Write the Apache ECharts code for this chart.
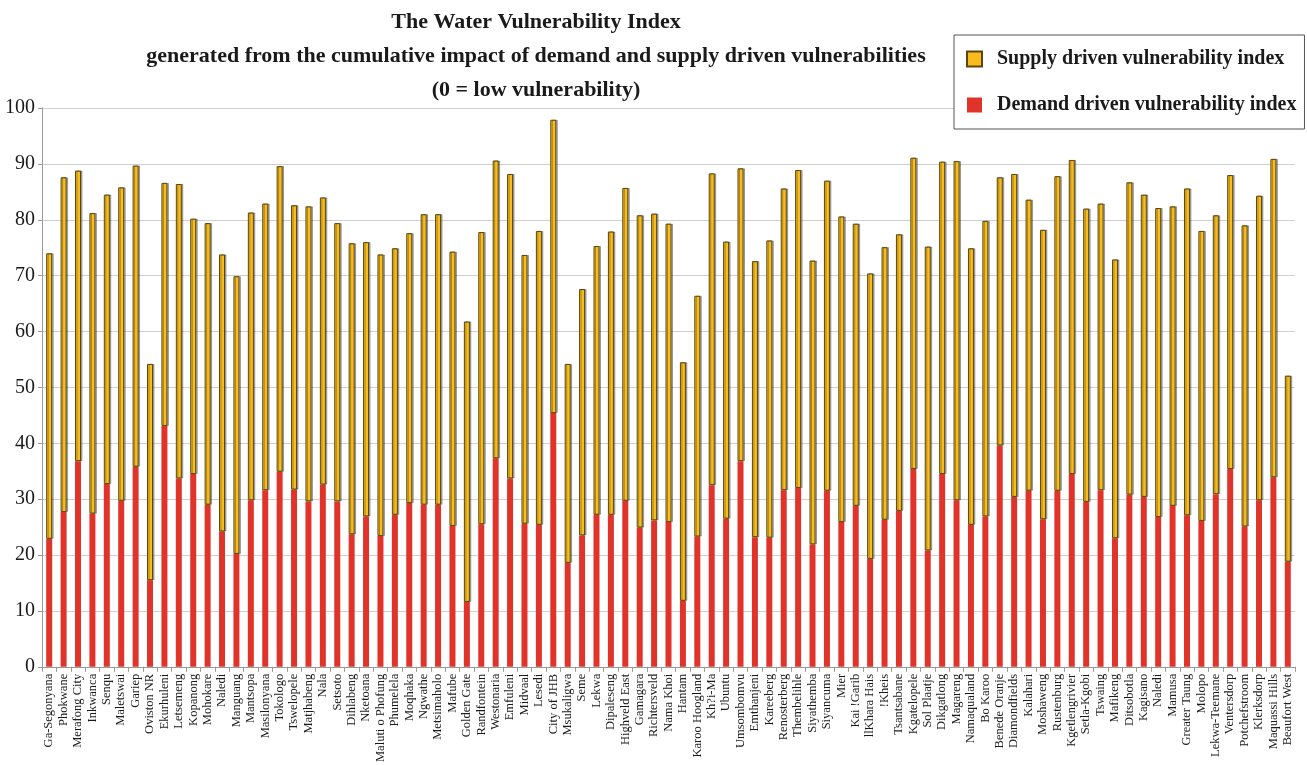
<!DOCTYPE html>
<html>
<head>
<meta charset="utf-8">
<script src="https://cdn.jsdelivr.net/npm/echarts@6/dist/echarts.min.js"></script>
<style>
html,body{margin:0;padding:0;background:#fff;}
#chart{width:1307px;height:765px;}
</style>
</head>
<body>
<div id="chart"></div>
<script>
const categories = [
  'Ga-Segonyana','Phokwane','Merafong City','Inkwanca','Senqu','Maletswai','Gariep','Oviston NR','Ekurhuleni','Letsemeng',
  'Kopanong','Mohokare','Naledi','Manguang','Mantsopa','Masilonyana','Tokologo','Tswelopele','Matjhabeng','Nala',
  'Setsoto','Dihlabeng','Nketoana','Maluti o Phofung','Phumelela','Moqhaka','Ngwathe','Metsimaholo','Mafube','Golden Gate',
  'Randfontein','Westonaria','Emfuleni','Midvaal','Lesedi','City of JHB','Msukaligwa','Seme','Lekwa','Dipaleseng',
  'Highveld East','Gamagara','Richtersveld','Nama Khoi','Hantam','Karoo Hoogland','Kh?i-Ma','Ubuntu','Umsombomvu','Emthanjeni',
  'Kareeberg','Renosterberg','Thembelihle','Siyathemba','Siyancuma','Mier','Kai !Garib','llKhara Hais','!Kheis','Tsantsabane',
  'Kgatelopele','Sol Plaatje','Dikgatlong','Magareng','Namaqualand','Bo Karoo','Benede Oranje','Diamondfields','Kalahari','Moshaweng',
  'Rustenburg','Kgetlengrivier','Setla-Kgobi','Tswaing','Mafikeng','Ditsobotla','Kagisano','Naledi','Mamusa','Greater Taung',
  'Molopo','Lekwa-Teemane','Ventersdorp','Potchefstroom','Klerksdorp','Maquassi Hills','Beaufort West'
];

const demandValues = [
  22.9,27.7,36.8,27.4,32.7,29.7,35.8,15.5,43.1,33.7,
  34.5,29.0,24.2,20.2,29.8,31.6,34.9,31.7,29.6,32.6,
  29.6,23.7,26.9,23.4,27.2,29.3,29.0,29.0,25.2,11.6,
  25.5,37.3,33.7,25.6,25.4,45.4,18.6,23.5,27.2,27.2,
  29.7,24.9,26.2,25.9,11.8,23.3,32.5,26.5,36.8,23.2,
  23.1,31.6,32.0,21.9,31.5,25.9,28.8,19.3,26.3,27.9,
  35.4,20.8,34.5,29.8,25.4,26.9,39.6,30.4,31.5,26.4,
  31.5,34.5,29.5,31.6,23.0,30.8,30.4,26.8,28.8,27.1,
  26.1,30.9,35.4,25.1,29.8,33.9,18.8
];

const supplyValues = [
  51.1,59.9,52.0,53.8,51.8,56.1,53.9,38.7,43.5,52.7,
  45.7,50.4,49.6,49.7,51.5,51.3,54.7,50.9,52.8,51.4,
  49.8,52.1,49.1,50.4,47.7,48.3,52.0,52.0,49.1,50.2,
  52.3,53.3,54.5,48.1,52.6,52.5,35.6,44.1,48.1,50.7,
  56.0,55.9,54.9,53.4,42.7,43.1,55.8,49.6,52.4,49.4,
  53.2,54.0,56.9,50.8,55.5,54.7,50.5,51.1,48.8,49.5,
  55.7,54.4,55.9,60.7,49.5,52.9,48.0,57.8,52.1,51.8,
  56.3,56.2,52.5,51.3,49.9,55.9,54.1,55.3,53.6,58.5,
  51.9,49.9,52.6,53.9,54.5,57.0,33.3
];

const yTicks = { min: 0, max: 100, interval: 10 };

const serif = '"Liberation Serif", "DejaVu Serif", serif';
const chart = echarts.init(document.getElementById('chart'), null, {renderer: 'canvas'});

chart.setOption({
  animation: false,
  backgroundColor: '#ffffff',
  title: {
    text: 'The Water Vulnerability Index\ngenerated from the cumulative impact of demand and supply driven vulnerabilities\n(0 = low vulnerability)',
    left: 531,
    top: 0,
    textAlign: 'center',
    textStyle: {
      fontFamily: serif,
      fontWeight: 'bold',
      fontSize: 22,
      lineHeight: 34,
      color: '#1a1a1a'
    }
  },
  legend: {
    orient: 'vertical',
    left: 954,
    top: 35,
    data: ['Supply driven vulnerability index', 'Demand driven vulnerability index'],
    icon: 'rect',
    backgroundColor: '#ffffff',
    borderColor: '#555',
    borderWidth: 1,
    borderRadius: 0,
    padding: [14, 8, 14, 12],
    itemGap: 26,
    itemWidth: 15,
    itemHeight: 15,
    textStyle: {
      fontFamily: serif,
      fontWeight: 'bold',
      fontSize: 20,
      color: '#1a1a1a',
      padding: [0, 0, 0, 10]
    }
  },
  grid: {
    left: 42,
    right: 12,
    top: 108,
    bottom: 97,
    containLabel: false
  },
  xAxis: {
    type: 'category',
    data: categories,
    boundaryGap: true,
    axisLine: { show: true, lineStyle: { color: '#999', width: 1 } },
    axisTick: { show: true, length: 5, lineStyle: { color: '#999' } },
    axisLabel: {
      interval: 0,
      rotate: 90,
      margin: 7,
      fontFamily: serif,
      fontSize: 12.5,
      color: '#1a1a1a'
    }
  },
  yAxis: {
    type: 'value',
    min: yTicks.min,
    max: yTicks.max,
    interval: yTicks.interval,
    axisLine: { show: true, lineStyle: { color: '#999', width: 1 } },
    axisTick: { show: true, length: 4, lineStyle: { color: '#999' } },
    splitLine: { show: true, lineStyle: { color: '#cfcfcf', width: 1 } },
    axisLabel: {
      margin: 7,
      fontFamily: serif,
      fontSize: 20,
      color: '#1a1a1a'
    }
  },
  series: [
    {
      name: 'Demand driven vulnerability index',
      type: 'bar',
      stack: 'total',
      data: demandValues,
      barWidth: 6,
      itemStyle: { color: '#E0342A', borderWidth: 0 }
    },
    {
      name: 'Supply driven vulnerability index',
      type: 'bar',
      stack: 'total',
      data: supplyValues,
      barWidth: 6,
      itemStyle: {
        color: '#F8BC1C',
        borderColor: '#5a4710',
        borderWidth: 1,
        shadowColor: 'rgba(0,0,0,0.3)',
        shadowOffsetX: 1.5,
        shadowOffsetY: 0,
        shadowBlur: 0
      }
    }
  ]
});
</script>
</body>
</html>
